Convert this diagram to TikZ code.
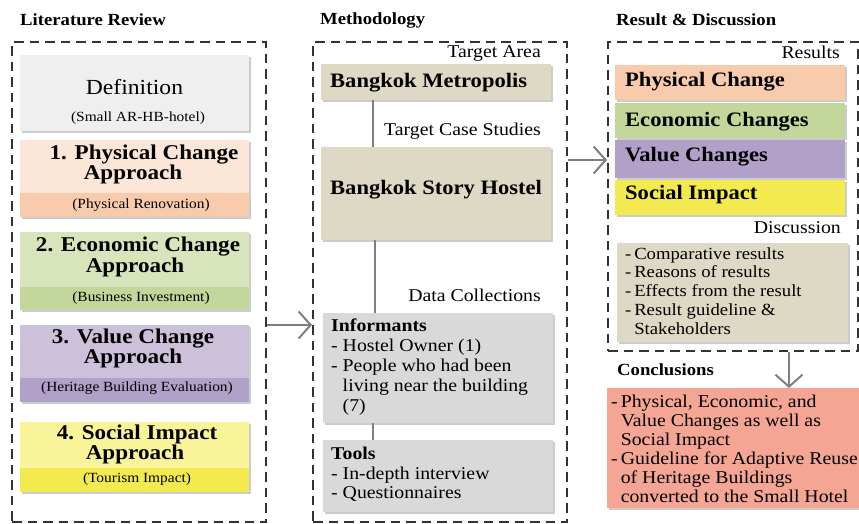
\documentclass[tikz,border=0pt]{standalone}
\usepackage{fontspec}
\setmainfont{Liberation Serif}[FakeStretch=1.1]
\usetikzlibrary{shadows,arrows.meta,calc}
\definecolor{defc}{HTML}{EFEFEF}
\definecolor{physA}{HTML}{FCE6D8}
\definecolor{physB}{HTML}{F8CBAD}
\definecolor{econA}{HTML}{D8E4BC}
\definecolor{econB}{HTML}{C4D79B}
\definecolor{valA}{HTML}{CCC0DA}
\definecolor{valB}{HTML}{B1A0C7}
\definecolor{socA}{HTML}{F9F39A}
\definecolor{socB}{HTML}{F3EA50}
\definecolor{beige}{HTML}{DDD9C4}
\definecolor{grayc}{HTML}{D9D9D9}
\definecolor{salmon}{HTML}{F4A594}
\definecolor{lnc}{HTML}{7F7F7F}
\begin{document}
\begin{tikzpicture}[x=1pt,y=-1pt,
  dbox/.style={draw=black!80, line width=2.3pt, dash pattern=on 9.5pt off 6pt, inner sep=0, anchor=north west},
  card/.style 2 args={inner sep=0, outer sep=0, anchor=north west, minimum width=#1pt, minimum height=#2pt,
     drop shadow={shadow xshift=2pt, shadow yshift=-2pt, fill=black!40}},
  strip/.style 2 args={path picture={\fill[#1] (path picture bounding box.south west) rectangle ([yshift=#2pt]path picture bounding box.south east);}},
  ttl/.style={font=\fontsize{17}{18}\selectfont\bfseries, anchor=west, inner sep=0},
  big/.style={font=\fontsize{21}{21}\selectfont\bfseries, inner sep=0},
  sub/.style={font=\fontsize{14}{14}\selectfont, inner sep=0},
  lab/.style={font=\fontsize{18}{18}\selectfont, anchor=east, inner sep=0},
  bar/.style={font=\fontsize{20.5}{21}\selectfont\bfseries, anchor=west, inner sep=0},
  body/.style={font=\fontsize{18}{20}\selectfont, align=left, anchor=north west, inner sep=0},
  arr/.style={draw=lnc, line width=2pt, -{Straight Barb[length=12pt,width=27pt]}},
  conn/.style={draw=lnc, line width=2pt}
]
\useasboundingbox (0,0) rectangle (859,523);

% ---------- Literature Review ----------
\node[ttl] (t1) at (20,20) {Literature Review};
\node[dbox, minimum width=254pt, minimum height=480pt] (lit) at (11,41) {};

\node[card={229}{76}, fill=defc] (def) at (20,55) {};
\node[font=\fontsize{21.5}{21}\selectfont, inner sep=0] (deft) at (134.5,87) {Definition};
\node[sub] (defs) at (138,118) {(Small AR-HB-hotel)};

\node[card={229}{77}, fill=physA, strip={physB}{24}] (phys) at (20,140) {};
\node[big] (phys1) at (144,155) {1. Physical Change};
\node[big] (phys2) at (133,174) {Approach};
\node[sub] (physs) at (141,205) {(Physical Renovation)};

\node[card={229}{78}, fill=econA, strip={econB}{23}] (econ) at (20,232) {};
\node[big] (econ1) at (138,247) {2. Economic Change};
\node[big] (econ2) at (135,267) {Approach};
\node[sub] (econs) at (141,298) {(Business Investment)};

\node[card={229}{77}, fill=valA, strip={valB}{24}] (val) at (20,325) {};
\node[big] (val1) at (133,339) {3. Value Change};
\node[big] (val2) at (133,358) {Approach};
\node[sub] (vals) at (137,388) {(Heritage Building Evaluation)};

\node[card={229}{70}, fill=socA, strip={socB}{24}] (soc) at (20,422) {};
\node[big] (soc1) at (137,434) {4. Social Impact};
\node[big] (soc2) at (135,454.5) {Approach};
\node[sub] (socs) at (137,479) {(Tourism Impact)};

% ---------- Methodology ----------
\node[ttl] (t2) at (320,20) {Methodology};
\node[dbox, minimum width=254pt, minimum height=480pt] (mid) at (312,41) {};

\node[lab] (ta) at (541,53) {Target Area};
\node[card={230}{36}, fill=beige] (metro) at (321,64) {};
\node[bar] (metrot) at (330,83) {Bangkok Metropolis};

\node[lab] (tcs) at (541,131) {Target Case Studies};
\node[card={230}{93}, fill=beige] (hostel) at (321,147) {};
\node[bar] (hostelt) at (330,190) {Bangkok Story Hostel};

\node[lab] (dc) at (541,295) {Data Collections};
\node[card={230}{110}, fill=grayc] (inf) at (323,313) {};
\node[body] (inft) at (331,319) {\textbf{Informants}\\- Hostel Owner (1)\\- People who had been\\\phantom{- }living near the building\\\phantom{- }(7)};

\node[card={230}{72}, fill=grayc] (tools) at (323,440) {};
\node[body, font=\fontsize{18}{19.5}\selectfont] (toolst) at (331,447) {\textbf{Tools}\\- In-depth interview\\- Questionnaires};

\draw[conn] (metro.south -| 373,0) -- (hostel.north -| 373,0);
\draw[conn] (hostel.south -| 375,0) -- (inf.north -| 375,0);
\draw[conn] (inf.south -| 373,0) -- (tools.north -| 373,0);

% ---------- Result & Discussion ----------
\node[ttl] (t3) at (616,20) {Result \& Discussion};
\node[dbox, minimum width=250pt, minimum height=309pt] (res) at (607,41) {};

\node[lab] (rl) at (840,52) {Results};
\node[card={230}{35}, fill=physB] (pc) at (615,65) {};
\node[bar] (pct) at (625,82) {Physical Change};
\node[card={230}{35}, fill=econB] (ec) at (615,103) {};
\node[bar] (ect) at (625,122) {Economic Changes};
\node[card={230}{38}, fill=valB] (vc) at (615,140) {};
\node[bar] (vct) at (625,157) {Value Changes};
\node[card={230}{35}, fill=socB] (si) at (615,180) {};
\node[bar] (sit) at (625,195) {Social Impact};

\node[lab] (dl) at (841,228) {Discussion};
\node[card={231}{99}, fill=beige] (disc) at (617,243) {};
\node[body, font=\fontsize{17}{18.8}\selectfont] (disct) at (625,247) {-\,Comparative results\\-\,Reasons of results\\-\,Effects from the result\\-\,Result guideline \&\\\phantom{-\,}Stakeholders};

% ---------- Conclusions ----------
\node[ttl] (t4) at (617,370) {Conclusions};
\node[card={252}{120}, fill=salmon] (concl) at (607,388) {};
\node[body, font=\fontsize{18}{19}\selectfont] (conclt) at (611,395) {-\,Physical, Economic, and\\\phantom{-\,}Value Changes as well as\\\phantom{-\,}Social Impact\\-\,Guideline for Adaptive Reuse\\\phantom{-\,}of Heritage Buildings\\\phantom{-\,}converted to the Small Hotel};

% ---------- arrows ----------
\draw[arr] (lit.east |- 0,325) -- (mid.west |- 0,325);
\draw[arr] (mid.east |- 0,160) -- (res.west |- 0,160);
\draw[arr] (res.south -| 789,0) -- (concl.north -| 789,0);
\end{tikzpicture}
\end{document}
